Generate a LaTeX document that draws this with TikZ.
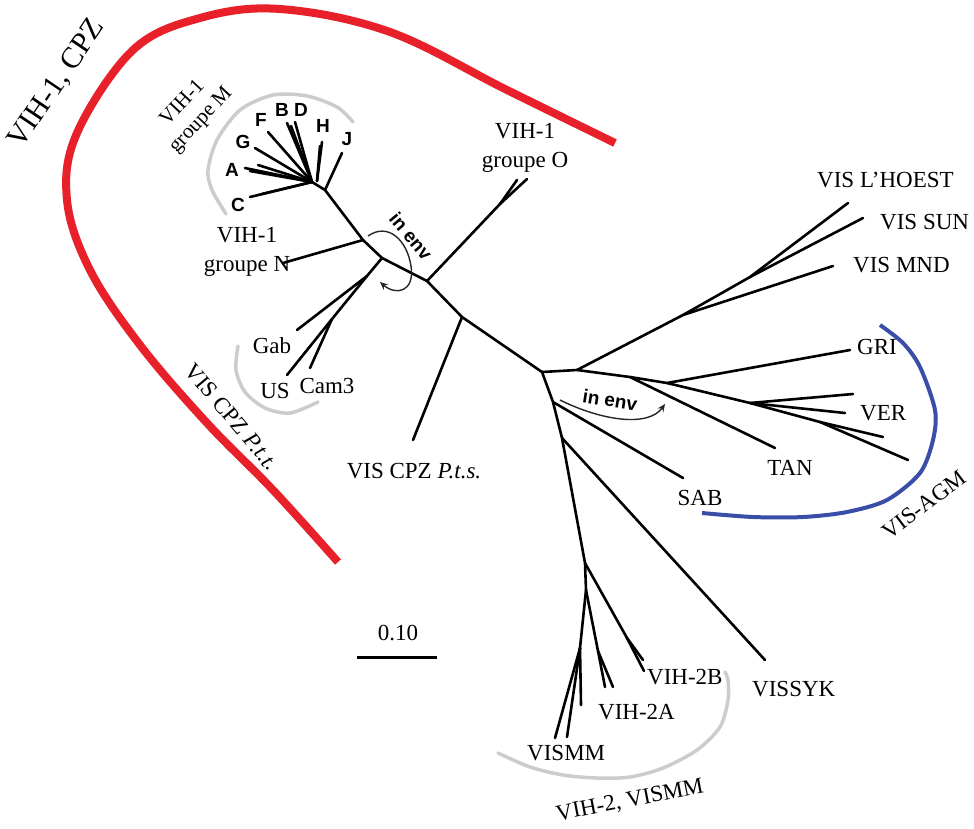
\documentclass[tikz,border=0pt]{standalone}
\usepackage{fontspec}
\setmainfont{Liberation Serif}
\newfontfamily\sansfam{Liberation Sans}
\usetikzlibrary{arrows.meta}
\definecolor{redarc}{HTML}{E8202A}
\definecolor{bluearc}{HTML}{3A4EA8}
\definecolor{grayarc}{HTML}{CCCCCC}
\begin{document}
\begin{tikzpicture}[x=1pt,y=-1pt,
  br/.style={line width=2.6pt, line cap=round, line join=round},
  lab/.style={font=\fontsize{23}{29}\selectfont, inner sep=0pt, align=center},
  letr/.style={font=\sansfam\bfseries\fontsize{19}{20}\selectfont, inner sep=0pt},
  envtxt/.style={font=\sansfam\bfseries\fontsize{19}{20}\selectfont, inner sep=0pt},
  envarrow/.style={line width=1.4pt, color=black!85, -{Stealth[length=8pt,width=7pt,inset=3pt]}},
  grayc/.style={line width=3.5pt, color=grayarc, line cap=round},
]
\useasboundingbox (0,0) rectangle (974,828);

% ---------- clade arcs ----------
\draw[line width=8pt, color=redarc] plot[smooth, tension=0.6] coordinates {
 (338,562) (273,490) (207,423) (140,345) (90,270) (67,200) (77,133) (133,50)
 (200,18) (280,9) (390,32) (507,90) (615,143)};
\draw[grayc] plot[smooth] coordinates {(226,214) (212,190) (208,170) (217,140)
 (240,110) (273,95) (307,96) (337,107) (353,122)};
\draw[grayc] plot[smooth] coordinates {(238,346) (236,370) (245,392) (265,408) (290,413) (318,402)};
\draw[grayc] plot[smooth] coordinates {(498,753) (530,767) (563,775) (597,778) (630,777)
 (663,768) (697,750) (720,727) (728,700) (728,680) (725,672)};
\draw[line width=4pt, color=bluearc] plot[smooth] coordinates {(880,325) (903,343) (920,367)
 (935,410) (933,440) (920,473) (887,500) (847,512) (803,517) (753,517) (702,513)};

% ---------- tree coordinates ----------
\coordinate (m0) at (312,182);
\coordinate (mj) at (325,190);
\coordinate (bN) at (363,240);
\coordinate (bG) at (382,258);
\coordinate (bO) at (427,281);
\coordinate (bP) at (462,317);
\coordinate (r0) at (542,372);
% group M leaves
\coordinate (lC) at (250,197);
\coordinate (lC2) at (262,194);
\coordinate (lA) at (245,168);
\coordinate (lA2) at (250,171);
\coordinate (lA3) at (258,165);
\coordinate (lG) at (255,148);
\coordinate (lF) at (268,132);
\coordinate (lB) at (287,123);
\coordinate (lB2) at (291,126);
\coordinate (lD) at (295,122);
\coordinate (hH) at (317,181);
\coordinate (lH) at (322,142);
\coordinate (lH2) at (320,146);
\coordinate (lJ) at (342,153);
% N, Gab, US, Cam3
\coordinate (lN) at (283,263);
\coordinate (g1) at (367,276);
\coordinate (lGab) at (297,330);
\coordinate (g2) at (332,319);
\coordinate (lUS) at (287,375);
\coordinate (lCam) at (310,368);
% O, P.t.s.
\coordinate (o1) at (500,204);
\coordinate (lO) at (527,179);
\coordinate (lO2) at (517,180);
\coordinate (lPts) at (413,440);
% right part
\coordinate (r1) at (577,370);
\coordinate (v0) at (683,315);
\coordinate (v1) at (750,277);
\coordinate (lLH) at (848,203);
\coordinate (lSUN) at (863,218);
\coordinate (lMND) at (833,266);
\coordinate (r2) at (630,377);
\coordinate (lTAN) at (775,448);
\coordinate (r3) at (667,383);
\coordinate (lGRI) at (850,350);
\coordinate (r4) at (750,403);
\coordinate (lVER1) at (853,394);
\coordinate (lVER2) at (845,413);
\coordinate (r5) at (820,422);
\coordinate (lAG1) at (883,437);
\coordinate (lAG2) at (908,460);
% down part
\coordinate (d1) at (553,402);
\coordinate (lSAB) at (683,478);
\coordinate (d2) at (562,438);
\coordinate (lSYK) at (765,660);
\coordinate (d3) at (585,563);
\coordinate (d4) at (627,638);
\coordinate (l2B1) at (643,660);
\coordinate (l2B2) at (644,671);
\coordinate (d5) at (586,590);
\coordinate (d6) at (598,651);
\coordinate (l2A1) at (605,687);
\coordinate (l2A2) at (613,687);
\coordinate (d7) at (580,648);
\coordinate (lMM1) at (581,705);
\coordinate (lMM2) at (555,738);
\coordinate (lMM3) at (567,737);

% ---------- branches ----------
\draw[br] (m0) -- (mj) -- (bN) -- (bG) -- (bO) -- (bP) -- (r0);
\draw[br] (m0) -- (lC); \draw[br] (m0) -- (lC2);
\draw[br] (m0) -- (lA); \draw[br] (m0) -- (lA2); \draw[br] (m0) -- (lA3);
\draw[br] (m0) -- (lG); \draw[br] (m0) -- (lF);
\draw[br] (m0) -- (lB); \draw[br] (m0) -- (lB2); \draw[br] (m0) -- (lD);
\draw[br] (hH) -- (lH); \draw[br] (hH) -- (lH2);
\draw[br] (mj) -- (lJ);
\draw[br] (bN) -- (lN);
\draw[br] (bG) -- (g1);
\draw[br] (g1) -- (lGab);
\draw[br] (g1) -- (g2) -- (lUS);
\draw[br] (g2) -- (lCam);
\draw[br] (bO) -- (o1) -- (lO);
\draw[br] (o1) -- (lO2);
\draw[br] (bP) -- (lPts);
% right
\draw[br] (r0) -- (r1) -- (r2) -- (r3) -- (r4) -- (r5);
\draw[br] (r1) -- (v0) -- (v1) -- (lLH);
\draw[br] (v1) -- (lSUN);
\draw[br] (v0) -- (lMND);
\draw[br] (r2) -- (lTAN);
\draw[br] (r3) -- (lGRI);
\draw[br] (r4) -- (lVER1);
\draw[br] (r4) -- (lVER2);
\draw[br] (r5) -- (lAG1);
\draw[br] (r5) -- (lAG2);
% down
\draw[br] (r0) -- (d1) -- (d2) -- (d3) -- (d5) -- (d7);
\draw[br] (d1) -- (lSAB);
\draw[br] (d2) -- (lSYK);
\draw[br] (d3) -- (d4) -- (l2B1);
\draw[br] (d4) -- (l2B2);
\draw[br] (d5) -- (d6) -- (l2A1);
\draw[br] (d6) -- (l2A2);
\draw[br] (d7) -- (lMM1);
\draw[br] (d7) -- (lMM2);
\draw[br] (d7) -- (lMM3);

% ---------- scale bar ----------
\coordinate (sb1) at (357,657);
\coordinate (sb2) at (437,657);
\draw[line width=3pt] (sb1) -- (sb2);
\node[lab] (scale) at (398,633) {0.10};

% ---------- in env arrows ----------
\coordinate (e1s) at (368,236);
\coordinate (e1e) at (380,282);
\draw[envarrow] (e1s) .. controls (388,222) and (407,240) .. (411,266)
   .. controls (415,292) and (396,296) .. (e1e);
\node[envtxt, rotate=-50] (env1) at (411,236) {in env};
\coordinate (e2s) at (560,400);
\coordinate (e2e) at (665,404);
\draw[envarrow] (e2s) .. controls (600,420) and (648,428) .. (e2e);
\node[envtxt, rotate=-9] (env2) at (610,400) {in env};

% ---------- letters of group M ----------
\node[letr] (tA) at (232,170) {A};
\node[letr] (tC) at (238,205) {C};
\node[letr] (tG) at (243,142) {G};
\node[letr] (tF) at (261,120) {F};
\node[letr] (tB) at (282,110) {B};
\node[letr] (tD) at (301,110) {D};
\node[letr] (tH) at (323,126) {H};
\node[letr] (tJ) at (347,139) {J};

% ---------- labels ----------
\node[lab, font=\fontsize{30}{32}\selectfont, rotate=56] (cpz) at (57,84) {VIH-1, CPZ};
\node[lab, font=\fontsize{21}{25}\selectfont, rotate=47] (grM) at (192,112) {VIH-1\\groupe M};
\node[lab] (grN) at (247,252) {VIH-1\\groupe N};
\node[lab] (grO) at (525,148) {VIH-1\\groupe O};
\node[lab] (tGab) at (272,346) {Gab};
\node[lab] (tUS) at (275,391) {US};
\node[lab] (tCam) at (327,386) {Cam3};
\node[lab, rotate=-50] (ptt) at (232,417) {VIS CPZ \textit{P.t.t.}};
\node[lab] (pts) at (414,471) {VIS CPZ \textit{P.t.s.}};
\node[lab, anchor=west] (tLH) at (817,180) {VIS L’HOEST};
\node[lab, anchor=west] (tSUN) at (880,222) {VIS SUN};
\node[lab, anchor=west] (tMND) at (853,265) {VIS MND};
\node[lab, anchor=west] (tGRI) at (857,347) {GRI};
\node[lab, anchor=west] (tVER) at (860,413) {VER};
\node[lab] (tTAN) at (790,468) {TAN};
\node[lab] (tSAB) at (700,498) {SAB};
\node[lab, rotate=37] (agm) at (924,505) {VIS-AGM};
\node[lab, anchor=west] (t2B) at (647,677) {VIH-2B};
\node[lab, anchor=west] (t2A) at (598,712) {VIH-2A};
\node[lab, anchor=west] (tMM) at (527,753) {VISMM};
\node[lab, anchor=west] (tSYK) at (752,689) {VISSYK};
\node[lab, rotate=11] (vih2) at (630,801) {VIH-2, VISMM};
\end{tikzpicture}
\end{document}
